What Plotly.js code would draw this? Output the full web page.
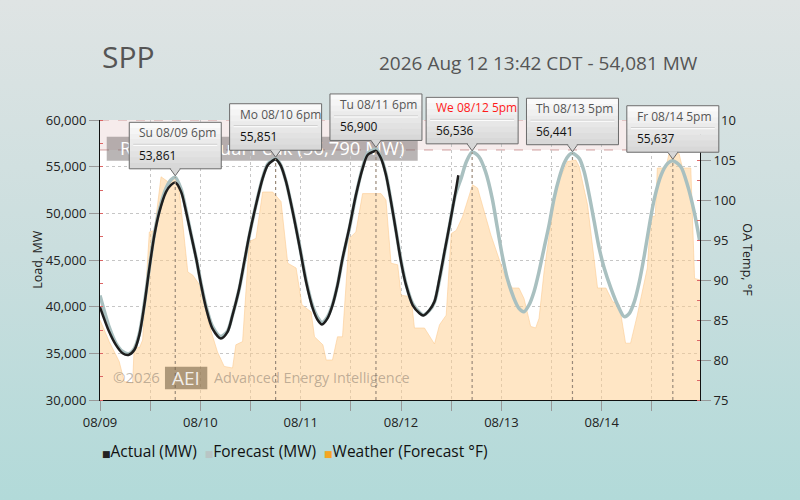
<!DOCTYPE html>
<html>
<head>
<meta charset="utf-8">
<script src="https://cdn.plot.ly/plotly-3.0.1.min.js"></script>
<style>
html,body{margin:0;padding:0;}
body{width:800px;height:500px;background:linear-gradient(to bottom,#dfe4e4 0%,#cadede 50%,#b2dad9 100%);}
#chart{width:800px;height:500px;}
</style>
</head>
<body>
<div id="chart"></div>
<script>
// ---- data (hours since 2026-08-09 00:00) ----
const startDate = Date.UTC(2026, 7, 9);
const chartTitle = "SPP";
const chartSubtitle = "2026 Aug 12 13:42 CDT - 54,081 MW";
const seriesNames = ["Actual (MW)", "Forecast (MW)", "Weather (Forecast °F)"];

const actualHours = [0,2.2,3.8,5.4,6.8,8.2,9.4,10.6,11.8,13.0,14.2,15.8,17.0,18.0,19.4,20.6,21.8,23.0,24.2,25.4,26.9,28.9,30.5,31.7,33.3,34.5,35.7,37.3,38.9,40.1,41.3,42.0,43.2,44.5,46.1,47.7,49.3,50.9,52.1,53.1,54.4,55.6,56.8,58.0,59.6,61.2,62.8,64.0,65.6,66.0,67.2,68.4,69.6,70.8,72.0,73.2,74.8,76.4,77.3,78.8,80.0,81.2,82.4,83.6,85.0,85.7];
const actualMW = [39950,37300,35900,35000,34820,35350,36950,40150,44100,47650,50150,52300,53050,53300,52300,50150,47650,45150,42300,39800,37650,36600,37300,39100,41950,44800,47650,50900,53750,55150,55650,55800,55150,53400,50150,46500,42650,39800,38550,38100,38750,40150,42300,45150,48400,51950,54800,56250,56650,56700,55900,54100,51250,48050,44800,42300,40150,39300,39050,39650,40550,43050,45900,48750,52200,54081];

const forecastHours = [0,2.2,3.8,5.4,6.8,8.2,9.4,10.6,11.8,13.0,14.2,15.8,17.0,18.0,19.4,20.6,21.8,23.0,24.2,25.4,26.9,28.9,30.5,31.7,33.3,34.5,35.7,37.3,38.9,40.1,41.3,42.0,43.2,44.5,46.1,47.7,49.3,50.9,52.1,53.1,54.4,55.6,56.8,58.0,59.6,61.2,62.8,64.0,65.6,66.0,67.2,68.4,69.6,70.8,72.0,73.2,74.8,76.4,77.3,78.8,80.0,81.2,82.4,83.6,85.0,86.4,87.6,89.0,90.6,92.2,93.8,94.9,96.2,97.4,99.0,100.2,101.4,102.6,103.8,105.0,106.2,107.4,108.6,109.8,111.0,112.2,113.0,114.6,115.8,117.0,118.2,119.4,120.6,122.2,123.8,125.4,126.6,127.8,129.0,130.2,131.4,132.6,134.2,135.8,137.0,138.9,140.5,142.1,143.4];
const forecastMW = [41200,37800,36100,35200,34950,35500,37100,40300,44200,47800,50400,52700,53600,53861,52600,50300,47700,45200,42400,40000,37900,36800,37400,39100,41900,44700,47600,50900,53800,55250,55750,55851,55200,53400,50200,46600,42800,40000,38800,38300,38900,40200,42300,45100,48300,51900,54900,56400,56850,56900,56000,54200,51300,48100,44900,42400,40300,39400,39100,39600,40500,42900,45800,48700,52000,53800,55500,56536,56071,54464,51607,48800,45500,43036,40893,39825,39464,40179,41607,43750,46250,48750,51607,53750,55357,56250,56441,55893,54464,51964,49107,46250,44107,41964,40179,38929,39286,40536,42679,45536,48750,51607,54107,55357,55637,55000,53036,50179,47100];

const weatherHours = [0,2.2,4.6,5.8,7.8,8.2,9.4,10.2,11.8,13.0,14.6,16.2,17.0,17.8,19.0,21.0,22.2,23.8,26.1,28.1,29.7,31.7,32.5,34.1,35.7,37.3,38.9,41.3,43.3,44.9,46.9,48.3,50.5,51.3,53.3,54.1,55.6,56.8,58.0,59.6,61.2,62.8,67.2,68.4,69.6,71.2,72.0,74.4,75.2,77.6,80.0,81.2,82.8,84.0,85.2,86.7,89.1,90.3,93.5,95.5,96.9,98.6,100.2,101.4,103.0,104.2,105.0,106.2,107.8,109.0,111.8,113.8,114.6,116.6,119.0,121.0,122.6,124.2,125.7,126.9,128.5,130.9,131.7,132.8,133.3,135.3,136.1,138.5,139.3,141.3,142.2,143.5];
const weatherF = [85.0,82.3,79.8,77.3,77.1,81.9,81.5,82.5,96.0,96.2,102.9,102.3,102.3,102.9,101.0,91.0,90.6,89.4,84.4,81.0,79.2,79.0,81.9,82.3,94.8,95.2,101.0,101.0,99.8,92.1,91.5,86.9,86.0,82.9,81.9,80.0,80.0,82.9,82.9,95.2,96.0,100.8,100.8,100.0,92.1,91.9,88.1,87.9,84.0,84.0,82.0,84.4,85.6,95.8,96.2,97.9,101.9,101.5,95.6,92.7,90.4,89.0,89.0,87.7,84.2,84.0,85.2,91.0,96.9,101.5,104.8,105.0,104.2,99.4,89.0,89.0,87.3,86.9,82.1,82.1,85.6,91.5,97.9,98.0,104.0,104.0,105.8,105.8,104.0,104.0,90.2,90.0];

const peakHours = [18, 42, 66, 89, 113, 137];
const peakMW = [53861, 55851, 56900, 56536, 56441, 55637];
const peakLabels = ["Su 08/09 6pm", "Mo 08/10 6pm", "Tu 08/11 6pm", "We 08/12 5pm", "Th 08/13 5pm", "Fr 08/14 5pm"];
const currentPeakIndex = 3;
const recordPeakMW = 56790;

const xTickHours = [0,12,24,36,48,60,72,84,96,108,120,132];
const xTickText = ["08/09","","08/10","","08/11","","08/12","","08/13","","08/14",""];
const xRangeHours = [0, 143.5];
const loadRange = [30000, 60000];
const tempRange = [75, 110];

// ---- helpers ----
function d(h){ return new Date(startDate + Math.round(h*3600000)).toISOString().slice(0,19).replace('T',' '); }
const fmt = v => v.toLocaleString('en-US');
const FONT = '"Open Sans", "Noto Sans", "DejaVu Sans", sans-serif';

const traces = [
  {x: weatherHours.map(d), y: weatherF, xaxis:'x', yaxis:'y', type:'scatter', mode:'lines',
   line:{color:'rgba(252,200,140,0.55)', width:1}, fill:'tozeroy', fillcolor:'rgba(255,205,140,0.5)', name:seriesNames[2]},
  {x: forecastHours.map(d), y: forecastMW, xaxis:'x', yaxis:'y2', type:'scatter', mode:'lines',
   line:{color:'#a9c0c0', width:3.5, shape:'spline', smoothing:0.8}, name:seriesNames[1]},
  {x: actualHours.map(d), y: actualMW, xaxis:'x', yaxis:'y2', type:'scatter', mode:'lines',
   line:{color:'#1e1e1e', width:2.5, shape:'spline', smoothing:0.8}, name:seriesNames[0]}
];

const shapes = [];
const annotations = [];

// record band
shapes.push({type:'rect', xref:'paper', yref:'y2', x0:0, x1:1, y0:recordPeakMW, y1:loadRange[1],
  fillcolor:'rgba(200,140,140,0.17)', line:{width:0}, layer:'between'});
[recordPeakMW, loadRange[1]].forEach(v => shapes.push({type:'line', xref:'paper', yref:'y2', x0:0, x1:1, y0:v, y1:v,
  line:{color:'#cf9c9c', width:1, dash:'dash'}, layer:'between'}));
shapes.push({type:'rect', xref:'paper', yref:'paper', x0:0.0112, x1:0.5295, y0:0.8546, y1:0.9404,
  fillcolor:'rgba(115,108,108,0.5)', line:{width:0}, layer:'between',
  label:{text:'Record Annual Peak (' + fmt(recordPeakMW) + ' MW)', font:{family:FONT, size:18.5, color:'#ffffff'}, textposition:'middle center'}});

// peak dotted lines + tooltip texts
const boxL=-46, boxR=46, boxB=8.5, boxT=55, sepY=32.5, nBands=8;
peakHours.forEach((h, i) => {
  const t = d(h), v = peakMW[i];
  shapes.push({type:'line', xref:'x', yref:'y2', x0:t, x1:t, y0:loadRange[0], y1:v,
    line:{color:'#9a8a7a', width:1.2, dash:'dot'}, layer:'above'});
  annotations.push({xref:'x', yref:'y2', x:t, y:v, xanchor:'left', yanchor:'middle', xshift:boxL+8, yshift:44.5,
    showarrow:false, text:peakLabels[i], font:{family:FONT, size:12, color: i===currentPeakIndex ? '#ff1a1a' : '#555555'}});
  annotations.push({xref:'x', yref:'y2', x:t, y:v, xanchor:'left', yanchor:'middle', xshift:boxL+8, yshift:22,
    showarrow:false, text:fmt(v), font:{family:FONT, size:12, color:'#111111'}});
});

// watermark
shapes.push({type:'rect', xref:'paper', yref:'paper', x0:0.1083, x1:0.1788, y0:0.0382, y1:0.1189,
  fillcolor:'rgba(120,100,70,0.6)', line:{width:0}, layer:'above'});
annotations.push({xref:'paper', yref:'paper', x:0.018, y:0.082, xanchor:'left', yanchor:'middle', showarrow:false,
  text:'©2026', font:{family:FONT, size:15, color:'rgba(110,100,90,0.45)'}});
annotations.push({xref:'paper', yref:'paper', x:0.1435, y:0.08, xanchor:'center', yanchor:'middle', showarrow:false,
  text:'AEI', font:{family:FONT, size:19, color:'rgba(255,255,255,0.85)'}});
annotations.push({xref:'paper', yref:'paper', x:0.186, y:0.082, xanchor:'left', yanchor:'middle', showarrow:false,
  text:'Advanced Energy Intelligence', font:{family:FONT, size:14.4, color:'rgba(110,100,90,0.45)'}});

// titles
annotations.push({xref:'paper', yref:'paper', x:0, y:1.225, xanchor:'left', yanchor:'middle', showarrow:false,
  text:chartTitle, font:{family:FONT, size:30, color:'#555555'}});
annotations.push({xref:'paper', yref:'paper', x:1, y:1.2025, xanchor:'right', yanchor:'middle', showarrow:false,
  text:chartSubtitle, font:{family:FONT, size:19, color:'#555555'}});
// axis titles
annotations.push({xref:'paper', yref:'paper', x:-0.1055, y:0.5, xanchor:'center', yanchor:'middle', showarrow:false,
  textangle:-90, text:'Load, MW', font:{family:FONT, size:12.5, color:'#222222'}});
annotations.push({xref:'paper', yref:'paper', x:1.0795, y:0.5, xanchor:'center', yanchor:'middle', showarrow:false,
  textangle:90, text:'OA Temp, °F', font:{family:FONT, size:12.5, color:'#222222'}});
// legend
const legendColors = ['#222222', '#b9c5c5', '#f5a623'];
const legendText = seriesNames.map((n, i) =>
  `<span style="color:${legendColors[i]};font-size:9px">■</span>${n}`).join('&nbsp;&nbsp;');
annotations.push({xref:'paper', yref:'paper', x:0, y:-0.182, xanchor:'left', yanchor:'middle', showarrow:false,
  text:legendText, font:{family:FONT, size:15.5, color:'#111111'}});

const axisCommon = {ticks:'outside', ticklen:10, tickcolor:'#999999', tickwidth:1, showline:true, linecolor:'#111111',
  linewidth:1, zeroline:false, tickfont:{family:FONT, size:13, color:'#222222'}};

const layout = {
  width:800, height:500,
  margin:{l:100, r:100, t:120, b:100, pad:0},
  paper_bgcolor:'rgba(0,0,0,0)', plot_bgcolor:'#ffffff',
  font:{family:FONT, size:13, color:'#222222'},
  showlegend:false,
  xaxis: Object.assign({}, axisCommon, {type:'date', range:xRangeHours.map(d), tickmode:'array',
    tickvals:xTickHours.map(d), ticktext:xTickText, showgrid:true, gridcolor:'#c6c6c6', griddash:'dot'}),
  yaxis: Object.assign({}, axisCommon, {range:tempRange, dtick:5, tick0:75, side:'right', showgrid:false,
    minor:{dtick:2.5, ticks:'inside', ticklen:3, tickcolor:'#dd6666', showgrid:false}}),
  yaxis2: Object.assign({}, axisCommon, {range:loadRange, dtick:5000, tick0:30000, overlaying:'y', side:'left',
    tickformat:',d', showgrid:true, gridcolor:'#c6c6c6', griddash:'dot',
    minor:{dtick:2500, ticks:'inside', ticklen:3, tickcolor:'#dd6666', showgrid:false}}),
  shapes: shapes,
  annotations: annotations
};

Plotly.newPlot('chart', traces, layout, {staticPlot:true, displayModeBar:false}).then(gd => {
  // tooltip boxes: anchored at the peak points via the library's own axis scales, drawn unclipped (paper refs)
  const xa = gd._fullLayout.xaxis, ya = gd._fullLayout.yaxis2;
  const px = t => xa.l2p(xa.d2l(t)) / xa._length;
  const py = v => 1 - ya.l2p(ya.d2l(v)) / ya._length;
  const tip = [];
  peakHours.forEach((h, i) => {
    const base = {xref:'paper', yref:'paper', xsizemode:'pixel', ysizemode:'pixel',
      xanchor:px(d(h)), yanchor:py(peakMW[i]), layer:'above'};
    for(let k=0;k<nBands;k++){
      const c = Math.round(214 + (252-214)*(k+0.5)/nBands);
      tip.push(Object.assign({}, base, {type:'rect', x0:boxL, x1:boxR,
        y0:boxB+(boxT-boxB)*k/nBands, y1:boxB+(boxT-boxB)*(k+1)/nBands + 0.5,
        fillcolor:`rgb(${c},${c},${c})`, line:{width:0}}));
    }
    tip.push(Object.assign({}, base, {type:'rect', x0:boxL, x1:boxR, y0:boxB, y1:boxT, line:{color:'#6a6a6a', width:1}}));
    tip.push(Object.assign({}, base, {type:'line', x0:boxL+4, x1:boxR-4, y0:sepY+0.5, y1:sepY+0.5, line:{color:'#c9c9c9', width:1}}));
    tip.push(Object.assign({}, base, {type:'line', x0:boxL+4, x1:boxR-4, y0:sepY-0.5, y1:sepY-0.5, line:{color:'#ffffff', width:1}}));
    tip.push(Object.assign({}, base, {type:'path', path:'M -5 8.5 L 0 1.5 L 5 8.5', fillcolor:'#d7d7d7', line:{color:'#6a6a6a', width:1}}));
    tip.push(Object.assign({}, base, {type:'rect', x0:-4.2, x1:4.2, y0:7.9, y1:9.3, fillcolor:'#d7d7d7', line:{width:0}}));
  });
  return Plotly.relayout(gd, {shapes: shapes.concat(tip)});
});
</script>
</body>
</html>
